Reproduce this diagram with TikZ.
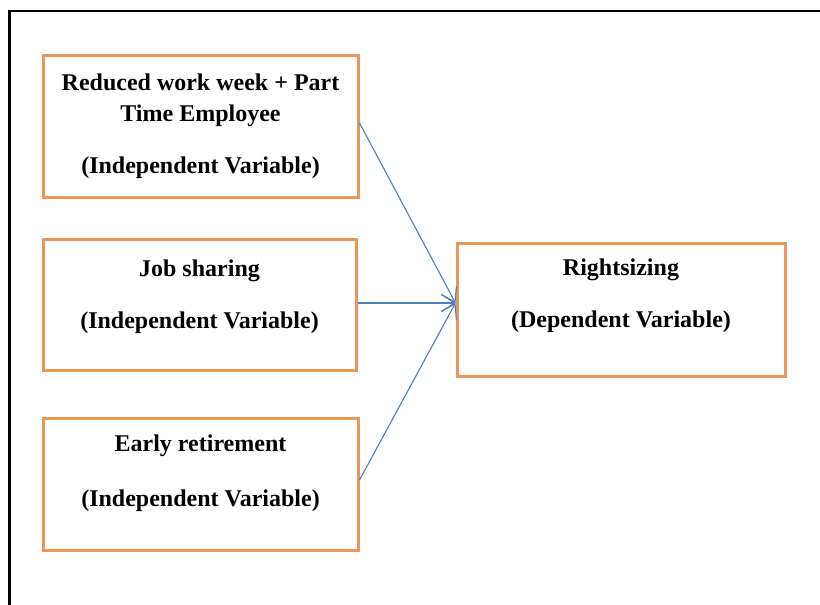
\documentclass[tikz,border=0pt]{standalone}
\usepackage{fontspec}
\setmainfont{Liberation Serif}
\usetikzlibrary{arrows.meta}
\definecolor{boxorange}{RGB}{233,150,88}
\definecolor{arrowblue}{RGB}{74,126,187}
\tikzset{
  varbox/.style={draw=boxorange, line width=3pt, fill=white, rectangle,
    inner sep=0pt},
  vartext/.style={anchor=base, inner sep=0pt,
    font=\fontsize{24}{28}\selectfont\bfseries},
  link/.style={draw=arrowblue, line width=1.1pt,
    -{Straight Barb[length=13pt,width=17pt,line width=1.1pt]}}
}
\begin{document}
\begin{tikzpicture}[x=1pt,y=-1pt]
  \useasboundingbox (0,0) rectangle (820,605);
  % page frame (top and left edges)
  \draw[line width=2.6pt] (9.5,606) -- (9.5,11) -- (821,11);

  % variable boxes
  \node[varbox, minimum width=315pt, minimum height=142pt] (b1) at (200.5,126) {};
  \node[varbox, minimum width=313pt, minimum height=131pt] (b2) at (199.5,304.5) {};
  \node[varbox, minimum width=315pt, minimum height=132pt] (b3) at (200.5,484) {};
  \node[varbox, minimum width=328pt, minimum height=133pt] (b4) at (621,309.5) {};

  % box texts
  \node[vartext] (t1a) at (200.5,90) {Reduced work week + Part};
  \node[vartext] (t1b) at (200.5,121) {Time Employee};
  \node[vartext] (t1c) at (200.5,173) {(Independent Variable)};

  \node[vartext] (t2a) at (199.5,276) {Job sharing};
  \node[vartext] (t2b) at (199.5,328) {(Independent Variable)};

  \node[vartext] (t3a) at (200.5,451) {Early retirement};
  \node[vartext] (t3b) at (200.5,506) {(Independent Variable)};

  \node[vartext] (t4a) at (621,275) {Rightsizing};
  \node[vartext] (t4b) at (621,327) {(Dependent Variable)};

  % connectors into the dependent variable
  \coordinate (target) at ([yshift=6.5pt]b4.west);
  \draw[link] ([yshift=3pt]b1.east) -- (target);
  \draw[link] ([yshift=1.5pt]b2.east) -- (target);
  \draw[link] ([yshift=4pt]b3.east) -- (target);
\end{tikzpicture}
\end{document}
